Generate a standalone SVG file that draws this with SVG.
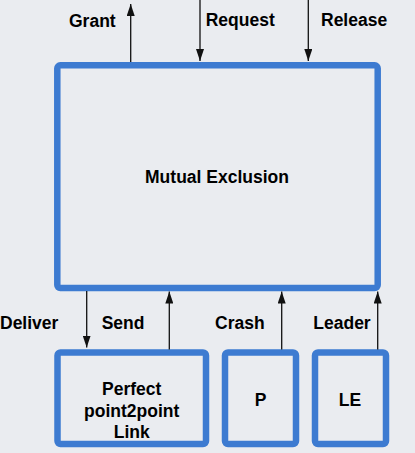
<svg xmlns="http://www.w3.org/2000/svg" width="415" height="453" viewBox="0 0 415 453">
<defs>
<style>
.box{fill:none;stroke:#3d7bd1;stroke-width:6.5;stroke-linejoin:round}
.lbl{font-family:"Liberation Sans",Arial,sans-serif;font-weight:bold;font-size:17.5px;fill:#000}
.mid{text-anchor:middle}
.ln{stroke:#111;stroke-width:1.3;fill:none}
</style>
<marker id="ah" viewBox="0 0 12 8" refX="12" refY="4" markerWidth="12" markerHeight="8" markerUnits="userSpaceOnUse" orient="auto">
<path d="M0,0 L12,4 L0,8 Z" fill="#111"/>
</marker>
</defs>
<rect width="415" height="453" fill="#eaecf0"/>
<g id="mutex">
<rect class="box" x="57.3" y="65.3" width="320.4" height="222.7" rx="3"/>
<text class="lbl mid" x="217" y="182.7">Mutual Exclusion</text>
</g>
<g id="p2p">
<rect class="box" x="57.5" y="352.5" width="148.5" height="91.5" rx="3"/>
<text class="lbl mid" x="131.7" y="394.7">Perfect</text>
<text class="lbl mid" x="131.7" y="416.5">point2point</text>
<text class="lbl mid" x="131.7" y="438.3">Link</text>
</g>
<g id="p">
<rect class="box" x="225" y="352.5" width="71" height="91.5" rx="3"/>
<text class="lbl mid" x="260.5" y="406">P</text>
</g>
<g id="le">
<rect class="box" x="315" y="352.5" width="71" height="91.5" rx="3"/>
<text class="lbl mid" x="350" y="406">LE</text>
</g>
<g id="connectors">
<line class="ln" x1="130.7" y1="62" x2="130.7" y2="4" marker-end="url(#ah)"/>
<line class="ln" x1="200" y1="0" x2="200" y2="61" marker-end="url(#ah)"/>
<line class="ln" x1="308.3" y1="0" x2="308.3" y2="61" marker-end="url(#ah)"/>
<line class="ln" x1="86.7" y1="291" x2="86.7" y2="347.5" marker-end="url(#ah)"/>
<line class="ln" x1="169.3" y1="349.5" x2="169.3" y2="291.5" marker-end="url(#ah)"/>
<line class="ln" x1="281.7" y1="349.5" x2="281.7" y2="291.5" marker-end="url(#ah)"/>
<line class="ln" x1="377.7" y1="349.5" x2="377.7" y2="291.5" marker-end="url(#ah)"/>
<text class="lbl" x="69" y="26.5">Grant</text>
<text class="lbl" x="205.7" y="25.5">Request</text>
<text class="lbl" x="321" y="25.5">Release</text>
<text class="lbl" x="0" y="329">Deliver</text>
<text class="lbl" x="101.7" y="329">Send</text>
<text class="lbl" x="215" y="329">Crash</text>
<text class="lbl" x="313.3" y="329">Leader</text>
</g>
</svg>
